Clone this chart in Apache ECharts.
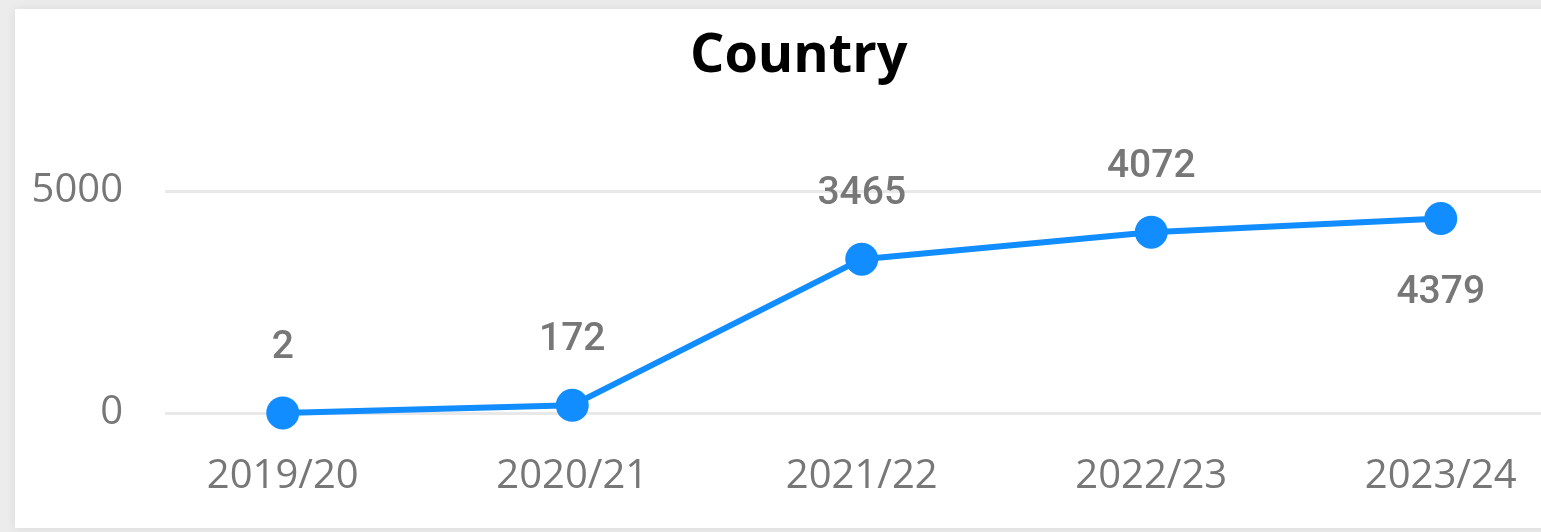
<!DOCTYPE html>
<html>
<head>
<meta charset="utf-8">
<title>Country</title>
<script src="https://cdn.jsdelivr.net/npm/echarts@6/dist/echarts.min.js"></script>
<style>
  html, body {
    margin: 0;
    padding: 0;
    width: 1541px;
    height: 532px;
    overflow: hidden;
    background: #ececec;
  }
  .card {
    position: absolute;
    left: 15px;
    top: 9px;
    width: 1620px;
    height: 519px;
    background: #fff;
    box-shadow: 0 0 10px rgba(0, 0, 0, 0.08);
  }
</style>
</head>
<body>
<div class="card" id="main"></div>
<script>
// 学年
var categories = ["2019/20", "2020/21", "2021/22", "2022/23", "2023/24"];
// 数值
var values = [2, 172, 3465, 4072, 4379];
// 标签放在点下面的数据
var belowLabels = [false, false, false, false, true];
// y 轴刻度
var yTicks = [0, 5000];

var labelColor = "#777777";
var lineColor = "#118dff";

var chart = echarts.init(document.getElementById("main"));

var seriesData = values.map(function (v, i) {
  var item = { value: v };
  if (belowLabels[i]) {
    item.label = { position: "bottom", distance: 39 };
  }
  return item;
});

var option = {
  animation: false,
  title: {
    text: "Country",
    left: 670,
    top: 16,
    textStyle: {
      fontFamily: "Open Sans",
      fontWeight: "bold",
      fontSize: 54,
      lineHeight: 54,
      color: "#000",
    },
  },
  grid: [
    // 数据区域
    { left: 123, top: 182, width: 1447.5, height: 222 },
    // 背景线区域
    { left: 150, top: 182, width: 1460, height: 222 },
  ],
  xAxis: [
    {
      type: "category",
      gridIndex: 0,
      data: categories,
      boundaryGap: true,
      axisLine: { show: false },
      axisTick: { show: false },
      axisLabel: {
        margin: 44,
        fontFamily: "Open Sans",
        fontSize: 40,
        color: labelColor,
      },
    },
    {
      type: "value",
      gridIndex: 1,
      show: false,
    },
  ],
  yAxis: [
    {
      type: "value",
      gridIndex: 0,
      min: yTicks[0],
      max: yTicks[yTicks.length - 1],
      show: false,
    },
    {
      type: "value",
      gridIndex: 1,
      min: yTicks[0],
      max: yTicks[yTicks.length - 1],
      interval: yTicks[1] - yTicks[0],
      axisLine: { show: false },
      axisTick: { show: false },
      axisLabel: {
        margin: 42,
        fontFamily: "Open Sans",
        fontSize: 40,
        color: labelColor,
        formatter: function (v) {
          return String(v);
        },
      },
      splitLine: {
        show: true,
        lineStyle: { color: "#e8e8e8", width: 3 },
      },
    },
  ],
  series: [
    {
      name: "Country",
      type: "line",
      xAxisIndex: 0,
      yAxisIndex: 0,
      data: seriesData,
      symbol: "circle",
      symbolSize: 33,
      lineStyle: { color: lineColor, width: 6 },
      itemStyle: { color: lineColor },
      label: {
        show: true,
        position: "top",
        distance: 29,
        fontFamily: "Roboto",
        fontWeight: 500,
        fontSize: 39,
        color: labelColor,
      },
    },
  ],
};

chart.setOption(option);
</script>
</body>
</html>
